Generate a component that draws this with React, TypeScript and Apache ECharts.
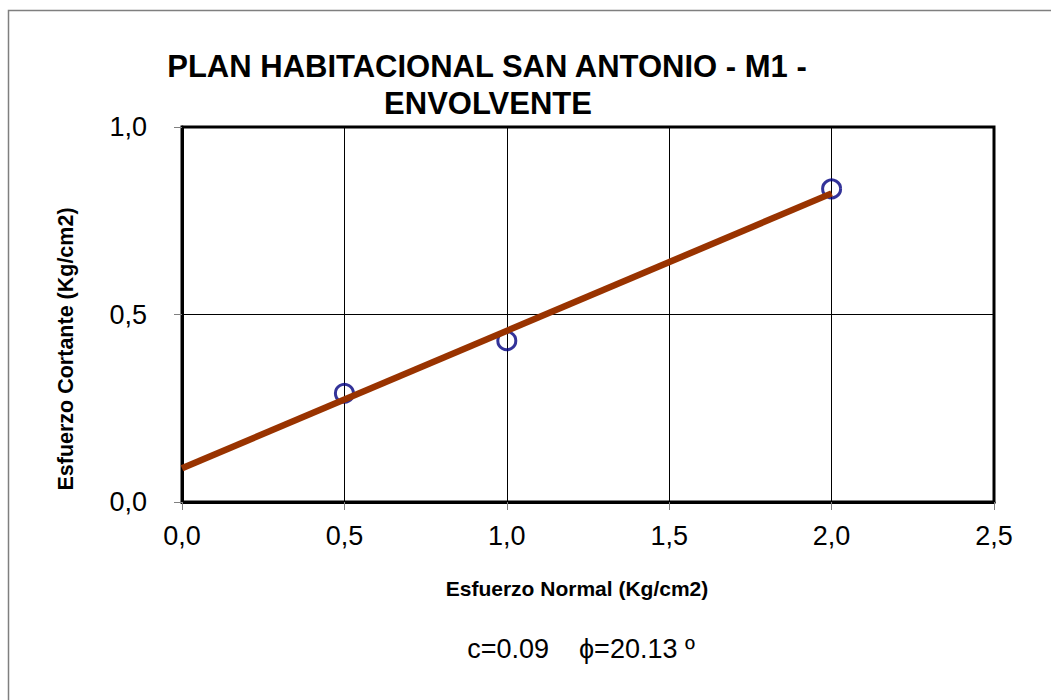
import React, { useEffect, useRef } from "react";
import * as echarts from "echarts";

const titleLines = ["PLAN HABITACIONAL SAN ANTONIO - M1 -", "ENVOLVENTE"];
const xAxisTitle = "Esfuerzo Normal (Kg/cm2)";
const yAxisTitle = "Esfuerzo Cortante (Kg/cm2)";
const annotation = "c=0.09    \u03d5=20.13 \u00ba";

const pointsX = [0.5, 1.0, 2.0];
const pointsY = [0.29, 0.43, 0.835];
const lineX = [0, 2.0];
const lineY = [0.09, 0.823];

const xMin = 0, xMax = 2.5, xStep = 0.5;
const yMin = 0, yMax = 1.0, yStep = 0.5;

const FONT = "'Liberation Sans', Arial, sans-serif";

export default function App() {
  const ref = useRef<HTMLDivElement>(null);
  useEffect(() => {
    if (!ref.current) return;
    const chart = echarts.init(ref.current, null, { renderer: "svg" });
    const fmt = (v: number) => v.toFixed(1).replace(".", ",");
    chart.setOption({
      animation: false,
      backgroundColor: "#ffffff",
      grid: {
        left: 182, top: 127, right: 57, bottom: 198,
        show: true, borderColor: "#000", borderWidth: 3, backgroundColor: "transparent",
      },
      xAxis: {
        type: "value", min: xMin, max: xMax, interval: xStep,
        axisLine: { show: true, lineStyle: { color: "#000", width: 3 } },
        axisTick: { show: true, inside: false, length: 8, lineStyle: { color: "#808080", width: 1 } },
        axisLabel: { formatter: fmt, fontFamily: FONT, fontSize: 27, color: "#000", margin: 20 },
        splitLine: { show: true, lineStyle: { color: "#000", width: 1 } },
      },
      yAxis: {
        type: "value", min: yMin, max: yMax, interval: yStep,
        axisLine: { show: true, lineStyle: { color: "#000", width: 3 } },
        axisTick: { show: true, inside: false, length: 8, lineStyle: { color: "#808080", width: 1 } },
        axisLabel: { formatter: fmt, fontFamily: FONT, fontSize: 27, color: "#000", margin: 35 },
        splitLine: { show: true, lineStyle: { color: "#000", width: 1 } },
      },
      series: [
        {
          type: "scatter",
          data: pointsX.map((x, i) => [x, pointsY[i]]),
          symbol: "circle",
          symbolSize: 18,
          itemStyle: { color: "rgba(0,0,0,0)", borderColor: "#000080", borderWidth: 3 },
          z: 2,
        },
        {
          type: "line",
          data: lineX.map((x, i) => [x, lineY[i]]),
          showSymbol: false,
          symbol: "none",
          lineStyle: { color: "#993300", width: 6.5 },
          z: 3,
        },
      ],
      graphic: [
        {
          type: "rect", z: -10, silent: true,
          shape: { x: 8.5, y: 10.5, width: 1100, height: 800 },
          style: { fill: "none", stroke: "#7f7f7f", lineWidth: 1.5 },
        },
        {
          type: "text", x: 487, y: 66,
          style: { text: titleLines[0], font: `bold 31px ${FONT}`, fill: "#000", textAlign: "center", textVerticalAlign: "middle" },
        },
        {
          type: "text", x: 488, y: 103,
          style: { text: titleLines[1], font: `bold 31px ${FONT}`, fill: "#000", textAlign: "center", textVerticalAlign: "middle" },
        },
        {
          type: "text", x: 577, y: 588,
          style: { text: xAxisTitle, font: `bold 21px ${FONT}`, fill: "#000", textAlign: "center", textVerticalAlign: "middle" },
        },
        {
          type: "text", x: 66, y: 349, rotation: Math.PI / 2,
          style: { text: yAxisTitle, font: `bold 21.5px ${FONT}`, fill: "#000", textAlign: "center", textVerticalAlign: "middle" },
        },
        {
          type: "text", x: 581, y: 649,
          style: { text: annotation, font: `27px ${FONT}`, fill: "#000", textAlign: "center", textVerticalAlign: "middle" },
        },
      ],
    });
    return () => chart.dispose();
  }, []);
  return (
    <div
      ref={ref}
      style={{ position: "fixed", left: 0, top: 0, width: 1051, height: 700 }}
    />
  );
}
